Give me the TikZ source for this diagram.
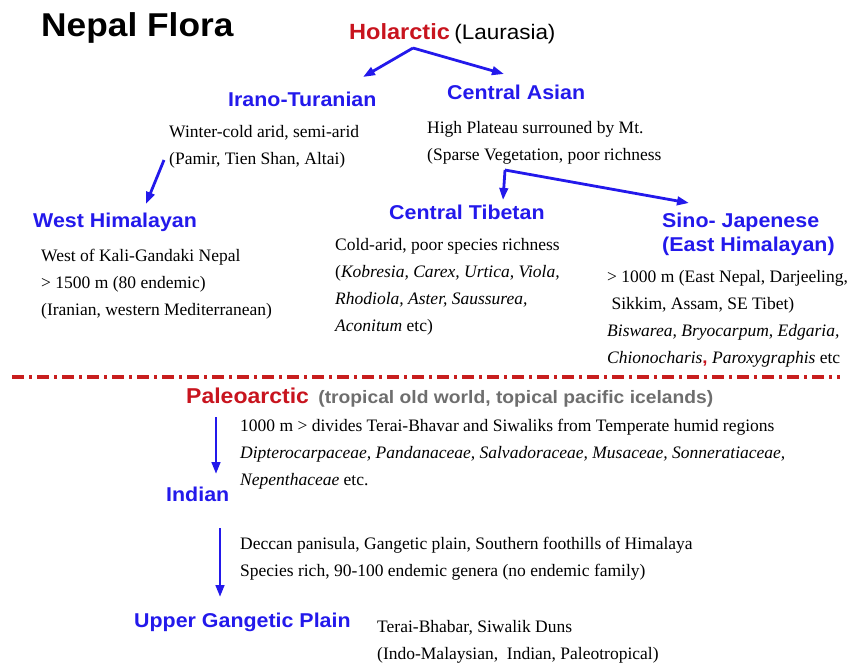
\documentclass[tikz,border=0pt]{standalone}
\usepackage{fontspec}
\setmainfont{Liberation Serif}
\newfontfamily\hfont{Liberation Sans}[FakeStretch=1.07]
\usetikzlibrary{arrows.meta}
\definecolor{hblue}{RGB}{35,25,235}
\definecolor{hred}{RGB}{200,20,30}
\definecolor{hgray}{RGB}{110,110,110}
\definecolor{lred}{RGB}{200,30,30}
\newcommand\blk[2][27pt]{\vtop{\baselineskip=#1\lineskip=0pt\lineskiplimit=-20pt #2}}
\newcommand\tl[1]{\hbox{#1}}
\begin{document}
\begin{tikzpicture}[x=1pt,y=-1pt,
  head/.style={anchor=base west, inner sep=0pt, font=\hfont\bfseries\fontsize{20}{24}\selectfont, text=hblue},
  body/.style={anchor=base west, inner sep=0pt, font=\fontsize{17.5}{27}\selectfont, text=black},
  arr/.style={draw=hblue, line width=2.8pt, -{Triangle[length=12pt,width=8.5pt]}}]
\useasboundingbox (0,0) rectangle (850,665);
% title
\node[anchor=base west, inner sep=0pt, font=\hfont\bfseries\fontsize{33}{36}\selectfont] (title) at (41,36) {Nepal Flora};
% Holarctic
\node[head, text=hred, font=\hfont\bfseries\fontsize{22}{26}\selectfont] (hol) at (349,39) {Holarctic};
\node[anchor=base west, inner sep=0pt, font=\hfont\fontsize{21}{26}\selectfont] (laur) at ([xshift=4pt]hol.base east) {(Laurasia)};
\node[head] (it) at (228,106) {Irano-Turanian};
\node[head] (ca) at (447,99) {Central Asian};
\node[body] (itt) at (169,137) {\blk{\tl{Winter-cold arid, semi-arid}\tl{(Pamir, Tien Shan, Altai)}}};
\node[body] (cat) at (427,133) {\blk{\tl{High Plateau surrouned by Mt.}\tl{(Sparse Vegetation, poor richness}}};
\node[head] (wh) at (33,227) {West Himalayan};
\node[head] (ct) at (389,219) {Central Tibetan};
\node[head] (sj) at (662,227) {\blk[24pt]{\tl{Sino- Japenese}\tl{(East Himalayan)}}};
\node[body] (wht) at (41,261) {\blk{\tl{West of Kali-Gandaki Nepal}\tl{> 1500 m (80 endemic)}\tl{(Iranian, western Mediterranean)}}};
\node[body] (ctt) at (335,250) {\blk{\tl{Cold-arid, poor species richness}\tl{(\textit{Kobresia, Carex, Urtica, Viola,}}\tl{\textit{Rhodiola, Aster, Saussurea,}}\tl{\textit{Aconitum} etc)}}};
\node[body] (sjt) at (607,282) {\blk{\tl{> 1000 m (East Nepal, Darjeeling,}\tl{\ Sikkim, Assam, SE Tibet)}\tl{\textit{Biswarea, Bryocarpum, Edgaria,}}\tl{\textit{Chionocharis}{\color{hred}\hfont\bfseries,} \textit{Paroxygraphis} etc}}};
% divider
\draw[lred, line width=3.5pt, dash pattern=on 12pt off 5pt on 3pt off 5pt] (12,377) -- (840,377);
% Paleoarctic
\node[head, text=hred, font=\hfont\bfseries\fontsize{21.5}{26}\selectfont] (pal) at (186,403) {Paleoarctic};
\node[anchor=base west, inner sep=0pt, text=hgray, font=\hfont\bfseries\fontsize{18}{22}\selectfont] (palt) at ([xshift=9pt]pal.base east) {(tropical old world, topical pacific icelands)};
\node[body] (palb) at (240,431) {\blk{\tl{1000 m > divides Terai-Bhavar and Siwaliks from Temperate humid regions}\tl{\textit{Dipterocarpaceae, Pandanaceae, Salvadoraceae, Musaceae, Sonneratiaceae,}}\tl{\textit{Nepenthaceae} etc.}}};
\node[head] (ind) at (166,501) {Indian};
\node[body] (indt) at (240,549) {\blk{\tl{Deccan panisula, Gangetic plain, Southern foothills of Himalaya}\tl{Species rich, 90-100 endemic genera (no endemic family)}}};
\node[head] (ugp) at (134,627) {Upper Gangetic Plain};
\node[body] (ugpt) at (377,632) {\blk{\tl{Terai-Bhabar, Siwalik Duns}\tl{(Indo-Malaysian, \ Indian, Paleotropical)}}};
% connectors
\coordinate (hv) at (413,48);
\coordinate (hl) at (363,77);
\coordinate (hr) at (504,74);
\draw[arr] (hv) -- (hl);
\draw[arr] (hv) -- (hr);
\coordinate (iv) at (164,160);
\coordinate (il) at (146,204);
\draw[arr] (iv) -- (il);
\coordinate (cv) at (505,170);
\coordinate (cd) at (503,200);
\coordinate (cr) at (689,203);
\draw[arr] (cv) -- (cd);
\draw[arr] (cv) -- (cr);
\coordinate (pv) at (216,417);
\coordinate (pd) at (216,474);
\draw[arr] (pv) -- (pd);
\coordinate (iv2) at (220,528);
\coordinate (id2) at (220,597);
\draw[arr] (iv2) -- (id2);
\end{tikzpicture}
\end{document}
